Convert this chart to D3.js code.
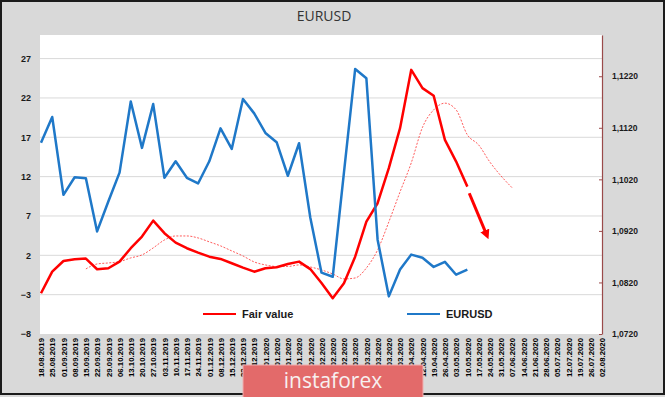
<!DOCTYPE html>
<html><head><meta charset="utf-8">
<script src="https://cdn.jsdelivr.net/npm/d3@7"></script>
<style>body{margin:0;background:#fff}svg{display:block}</style>
</head><body><svg id="c" width="665" height="397"></svg>
<script>
const dates = ["18.08.2019","25.08.2019","01.09.2019","08.09.2019","15.09.2019","22.09.2019","29.09.2019","06.10.2019","13.10.2019","20.10.2019","27.10.2019","03.11.2019","10.11.2019","17.11.2019","24.11.2019","01.12.2019","08.12.2019","15.12.2019","22.12.2019","29.12.2019","05.01.2020","12.01.2020","19.01.2020","26.01.2020","02.02.2020","09.02.2020","16.02.2020","23.02.2020","01.03.2020","08.03.2020","15.03.2020","22.03.2020","29.03.2020","05.04.2020","12.04.2020","19.04.2020","26.04.2020","03.05.2020","10.05.2020","17.05.2020","24.05.2020","31.05.2020","07.06.2020","14.06.2020","21.06.2020","28.06.2020","05.07.2020","12.07.2020","19.07.2020","26.07.2020","02.08.2020"];
const fairValue = [-2.82,-0.08,1.28,1.50,1.58,0.23,0.36,1.20,2.90,4.38,6.41,4.81,3.61,2.90,2.34,1.83,1.54,0.99,0.43,-0.08,0.36,0.48,0.90,1.20,0.25,-1.51,-3.46,-1.55,1.83,6.28,8.62,13.07,18.16,25.57,23.25,22.27,16.67,13.91,10.73];
const eurusd = [1.1091,1.1141,1.0990,1.1024,1.1022,1.0919,1.0977,1.1033,1.1171,1.1081,1.1166,1.1023,1.1055,1.1023,1.1012,1.1055,1.1119,1.1079,1.1176,1.1148,1.1110,1.1092,1.1027,1.1090,1.0946,1.0839,1.0831,1.1033,1.1234,1.1216,1.0903,1.0793,1.0845,1.0874,1.0868,1.0850,1.0860,1.0835,1.0845];
const fairAvgStart = 4;
const fairAvg = [0.27,0.90,1.03,1.20,1.67,2.05,2.94,3.95,4.46,4.46,4.21,3.71,3.20,2.56,1.92,1.16,0.78,0.58,0.58,0.78,0.52,0.14,-0.37,-1.0,-0.88,0.39,2.68,6.24,10.06,13.75,18.26,20.49,21.34,20.49,17.31,16.04,13.87,12.09,10.57];
const arrowIdx = [38.17, 39.72];
const arrowVal = [9.89, 4.59];
const leftTicks = [-8,-3,2,7,12,17,22,27];
const rightTicks = [1.072,1.082,1.092,1.102,1.112,1.122];
const legendLabels = ["Fair value","EURUSD"];

const svg = d3.select("#c");
const W=665,H=397;
const L=40,R=602,T=35,B=334;
svg.append("rect").attr("x",0).attr("y",0).attr("width",W).attr("height",H).attr("fill","#d9d9d9");
svg.append("rect").attr("x",1).attr("y",1).attr("width",W-2).attr("height",H-4).attr("fill","none").attr("stroke","#1b1b1b").attr("stroke-width",2);
svg.append("rect").attr("x",L).attr("y",T).attr("width",R-L).attr("height",B-T).attr("fill","#fff");

const x = d3.scaleLinear().domain([0,dates.length-1]).range([41,602]);
const yL = d3.scaleLinear().domain([-8,30]).range([B,T]);
const yR = d3.scaleLinear().domain([1.072,1.13]).range([B,T]);

// gridlines
svg.append("g").selectAll("line").data(leftTicks.filter(d=>d>-8)).join("line")
  .attr("x1",L).attr("x2",R).attr("y1",d=>yL(d)).attr("y2",d=>yL(d))
  .attr("stroke","#d9d9d9").attr("stroke-width",1);

// left axis
const gl = svg.append("g").attr("transform",`translate(${L},0)`)
  .call(d3.axisLeft(yL).tickValues(leftTicks).tickSize(0).tickPadding(9).tickFormat(d3.format("d")));
gl.select(".domain").remove();
gl.selectAll("text").attr("font-family","Liberation Sans, Arial, sans-serif").attr("font-size",9).attr("font-weight","bold").attr("fill","#1a1a1a");

// right axis
const gr = svg.append("g").attr("transform",`translate(${R},0)`)
  .call(d3.axisRight(yR).tickValues(rightTicks).tickSizeInner(-3).tickSizeOuter(0).tickPadding(10).tickFormat(d=>d3.format(".4f")(d).replace(".",",")));
gr.select(".domain").attr("stroke","#9a4a4a").attr("stroke-width",1.2);
gr.selectAll(".tick line").attr("stroke","#9a4a4a");
gr.selectAll("text").attr("font-family","Liberation Sans, Arial, sans-serif").attr("font-size",8.5).attr("font-weight","bold").attr("fill","#1a1a1a");

// bottom axis
const gb = svg.append("g").attr("transform",`translate(0,${B})`)
  .call(d3.axisBottom(x).tickValues(d3.range(dates.length)).tickSize(0).tickFormat(i=>dates[i]));
gb.select(".domain").remove();
gb.selectAll("text").attr("transform","rotate(-90)").attr("text-anchor","end")
  .attr("x",-4).attr("y",0).attr("dy","0.35em")
  .attr("font-family","Liberation Sans, Arial, sans-serif").attr("font-size",7.8).attr("font-weight","bold").attr("fill","#000");

// dotted average
const lineL = d3.line().x((d,i)=>x(i+fairAvgStart)).y(d=>yL(d)).curve(d3.curveMonotoneX);
svg.append("path").datum(fairAvg).attr("d",lineL).attr("fill","none")
  .attr("stroke","#ff4040").attr("stroke-width",1).attr("stroke-dasharray","2,1.5").attr("opacity",0.85);

// fair value
svg.append("path").datum(fairValue).attr("d",d3.line().x((d,i)=>x(i)).y(d=>yL(d)))
  .attr("fill","none").attr("stroke","#ff0000").attr("stroke-width",2.5).attr("stroke-linejoin","round");

// eurusd
svg.append("path").datum(eurusd).attr("d",d3.line().x((d,i)=>x(i)).y(d=>yR(d)))
  .attr("fill","none").attr("stroke","#1f78c8").attr("stroke-width",2.5).attr("stroke-linejoin","round");

// arrow
const defs = svg.append("defs");
defs.append("marker").attr("id","ah").attr("viewBox","0 0 10 10").attr("refX",5).attr("refY",5)
  .attr("markerWidth",3.2).attr("markerHeight",3.2).attr("orient","auto")
  .append("path").attr("d","M0,0L10,5L0,10z").attr("fill","#ff0000");
svg.append("line").attr("x1",x(arrowIdx[0])).attr("y1",yL(arrowVal[0]))
  .attr("x2",x(arrowIdx[1])).attr("y2",yL(arrowVal[1]))
  .attr("stroke","#ff0000").attr("stroke-width",3).attr("marker-end","url(#ah)");

// legend
const lg = svg.append("g");
const legColors = ["#ff0000","#1f78c8"];
const legX = [203,407];
legendLabels.forEach((t,i)=>{
  lg.append("line").attr("x1",legX[i]).attr("x2",legX[i]+33).attr("y1",314).attr("y2",314).attr("stroke",legColors[i]).attr("stroke-width",2);
  lg.append("text").attr("x",legX[i]+39).attr("y",314).attr("dy","0.35em").text(t)
    .attr("font-family","Liberation Sans, Arial, sans-serif").attr("font-size",11).attr("font-weight","bold").attr("fill","#1a1a1a");
});

// title
svg.append("text").attr("x",324).attr("y",21).attr("text-anchor","middle").text("EURUSD")
  .attr("font-family","Open Sans, Liberation Sans, sans-serif").attr("font-size",14).attr("fill","#333");

// watermark
svg.append("rect").attr("x",243).attr("y",365).attr("width",180).attr("height",34).attr("fill","#e36a6a").attr("stroke","#f0b0b0").attr("stroke-width",1);
svg.append("text").attr("x",333).attr("y",388).attr("text-anchor","middle").text("instaforex")
  .attr("font-family","Open Sans, sans-serif").attr("font-size",21).attr("fill","#f7f0f0");
</script></body></html>
